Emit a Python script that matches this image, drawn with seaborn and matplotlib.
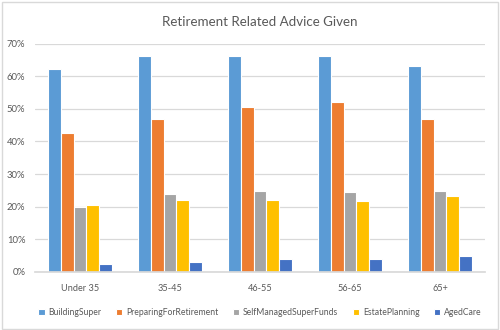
import matplotlib
matplotlib.use("Agg")
import matplotlib.pyplot as plt
import matplotlib.ticker as mticker
from matplotlib.patches import Rectangle
import seaborn as sns
import pandas as pd

# Share of clients given each type of retirement advice, by age group
age_groups = ["Under 35", "35-45", "46-55", "56-65", "65+"]
advice_types = ["BuildingSuper", "PreparingForRetirement", "SelfManagedSuperFunds",
                "EstatePlanning", "AgedCare"]
building_super = [62.2, 66.3, 66.3, 66.3, 63.1]
preparing_for_retirement = [42.7, 46.8, 50.6, 52.1, 46.8]
self_managed_super_funds = [19.9, 23.9, 24.8, 24.5, 24.8]
estate_planning = [20.5, 22.1, 22.1, 21.8, 23.3]
aged_care = [2.3, 2.9, 3.8, 3.8, 4.7]

series = [building_super, preparing_for_retirement, self_managed_super_funds,
          estate_planning, aged_care]
rows = []
for name, values in zip(advice_types, series):
    for grp, v in zip(age_groups, values):
        rows.append({"Age": grp, "Advice": name, "Share": v / 100.0})
df = pd.DataFrame(rows)

palette = ["#5B9BD5", "#ED7D31", "#A5A5A5", "#FFC000", "#4472C4"]
text_color = "#595959"

sns.set_theme(style="white")
plt.rcParams["font.family"] = ["Lato", "DejaVu Sans"]

fig = plt.figure(figsize=(5.0, 3.3), dpi=100)
ax = fig.add_axes([0.07, 0.177, 0.90, 0.69])

sns.barplot(data=df, x="Age", y="Share", hue="Advice", hue_order=advice_types,
            order=age_groups, palette=palette, width=0.72, saturation=1,
            edgecolor="white", linewidth=0.8, ax=ax, legend=True)

ax.set_ylim(0, 0.70)
ax.set_yticks([i / 10 for i in range(8)])
ax.yaxis.set_major_formatter(mticker.PercentFormatter(1.0, decimals=0))
ax.grid(axis="y", color="#D9D9D9", linewidth=0.9)
ax.set_axisbelow(True)
for side in ["top", "right", "left"]:
    ax.spines[side].set_visible(False)
ax.spines["bottom"].set_color("#D9D9D9")
ax.set_xlabel("")
ax.set_ylabel("")
ax.tick_params(axis="y", length=0, pad=7, labelsize=6.8, labelcolor=text_color)
ax.tick_params(axis="x", length=0, pad=9, labelsize=6.6, labelcolor=text_color)

ax.set_title("Retirement Related Advice Given", fontsize=9.6, color=text_color, pad=13)

ax.legend(loc="upper center", bbox_to_anchor=(0.5, -0.145), ncol=5, frameon=False,
          fontsize=6.2, labelcolor=text_color, handlelength=0.75, handleheight=0.75,
          handletextpad=0.45, columnspacing=1.65, borderaxespad=0)

fig.patches.append(Rectangle((0.003, 0.004), 0.992, 0.99, transform=fig.transFigure,
                             fill=False, edgecolor="#D9D9D9", linewidth=1))

fig.savefig("out.png", dpi=100, facecolor="white")
